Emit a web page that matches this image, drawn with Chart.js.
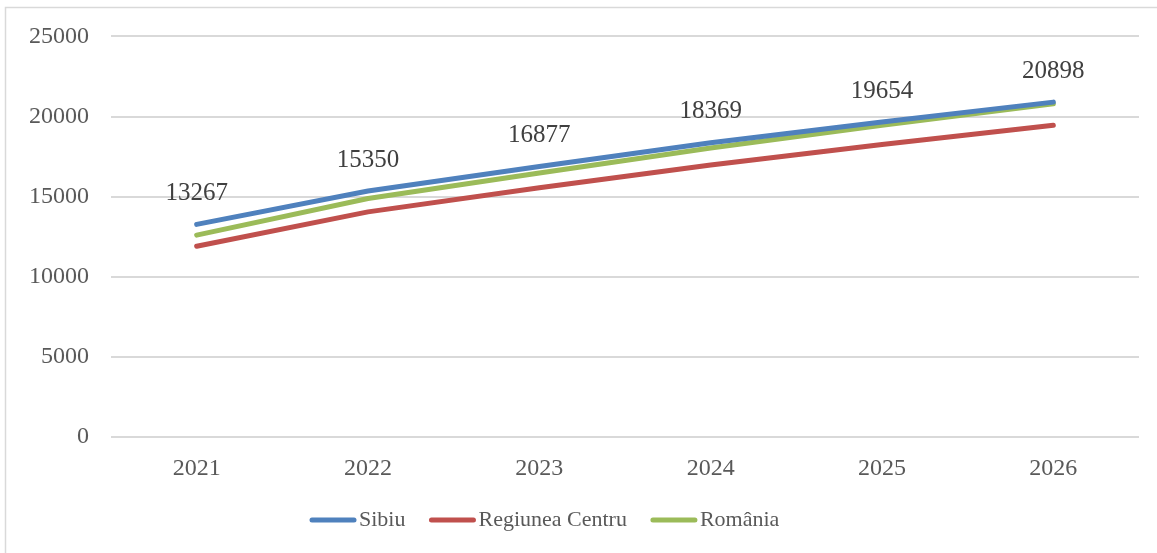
<!DOCTYPE html>
<html>
<head>
<meta charset="utf-8">
<script src="https://cdn.jsdelivr.net/npm/chart.js@4"></script>
<style>
  html, body { margin: 0; padding: 0; background: #fff; }
  #wrap { width: 1157px; height: 553px; position: relative; }
</style>
</head>
<body>
<div id="wrap"><canvas id="chart"></canvas></div>
<script>
// date
const years = ["2021", "2022", "2023", "2024", "2025", "2026"];
const sibiu = [13267, 15350, 16877, 18369, 19654, 20898];
const regiuneaCentru = [11900, 14050, 15550, 16980, 18250, 19450];
const romania = [12600, 14880, 16480, 18030, 19450, 20800];
const seriesNames = ["Sibiu", "Regiunea Centru", "România"];
const seriesColors = ["#4F81BD", "#C0504D", "#9BBB59"];

const FONT = "'Liberation Serif', 'DejaVu Serif', serif";
const TEXT = "#595959";

// chenarul exterior (doar stanga si sus sunt vizibile)
const frame = {
  id: "frame",
  afterDraw(chart) {
    const c = chart.ctx;
    c.save();
    c.strokeStyle = "#D9D9D9";
    c.lineWidth = 1.5;
    c.beginPath();
    c.moveTo(5.5, chart.height);
    c.lineTo(5.5, 7.5);
    c.lineTo(chart.width, 7.5);
    c.stroke();
    c.restore();
  }
};

// etichete de valori pentru Sibiu
const valueLabels = {
  id: "valueLabels",
  afterDatasetsDraw(chart) {
    const c = chart.ctx;
    const meta = chart.getDatasetMeta(0);
    c.save();
    c.font = "25px " + FONT;
    c.fillStyle = "#404040";
    c.textAlign = "center";
    c.textBaseline = "middle";
    meta.data.forEach((pt, i) => {
      c.fillText(String(chart.data.datasets[0].data[i]), pt.x, pt.y - 31);
    });
    c.restore();
  }
};

// legenda desenata manual, ca in Excel
const legendLine = {
  id: "legendLine",
  afterDraw(chart) {
    const c = chart.ctx;
    const y = 520;
    c.save();
    c.font = "22px " + FONT;
    c.textBaseline = "middle";
    const lineW = 46, gapText = 3, gapItem = 24;
    let x = 310;
    chart.data.datasets.forEach(d => {
      c.strokeStyle = d.borderColor;
      c.lineWidth = 5;
      c.lineCap = "round";
      c.beginPath();
      c.moveTo(x + 2, y);
      c.lineTo(x + lineW - 2, y);
      c.stroke();
      c.fillStyle = TEXT;
      c.fillText(d.label, x + lineW + gapText, y);
      x += lineW + gapText + c.measureText(d.label).width + gapItem;
    });
    c.restore();
  }
};

new Chart(document.getElementById("chart"), {
  type: "line",
  data: {
    labels: years,
    datasets: [sibiu, regiuneaCentru, romania].map((vals, i) => ({
      label: seriesNames[i],
      data: vals,
      borderColor: seriesColors[i],
      backgroundColor: seriesColors[i],
      borderWidth: 5,
      borderCapStyle: "round",
      borderJoinStyle: "round",
      pointRadius: 0,
      tension: 0,
      fill: false
    }))
  },
  options: {
    responsive: true,
    maintainAspectRatio: false,
    animation: false,
    layout: { padding: { top: 24, right: 18, bottom: 66, left: 0 } },
    plugins: {
      legend: { display: false },
      tooltip: { enabled: false }
    },
    scales: {
      x: {
        offset: true,
        grid: { display: false, drawTicks: false },
        border: { display: false },
        ticks: { color: TEXT, font: { family: FONT, size: 24 }, padding: 17, maxRotation: 0 },
        afterFit(s) { s.height = 50; }
      },
      y: {
        min: 0,
        max: 25000,
        ticks: {
          stepSize: 5000,
          color: TEXT,
          font: { family: FONT, size: 24 },
          padding: 22,
          callback: v => String(v)
        },
        grid: { color: "#D9D9D9", lineWidth: 2, drawTicks: false },
        border: { display: false },
        afterFit(s) { s.width = 111; }
      }
    }
  },
  plugins: [frame, valueLabels, legendLine]
});
</script>
</body>
</html>
